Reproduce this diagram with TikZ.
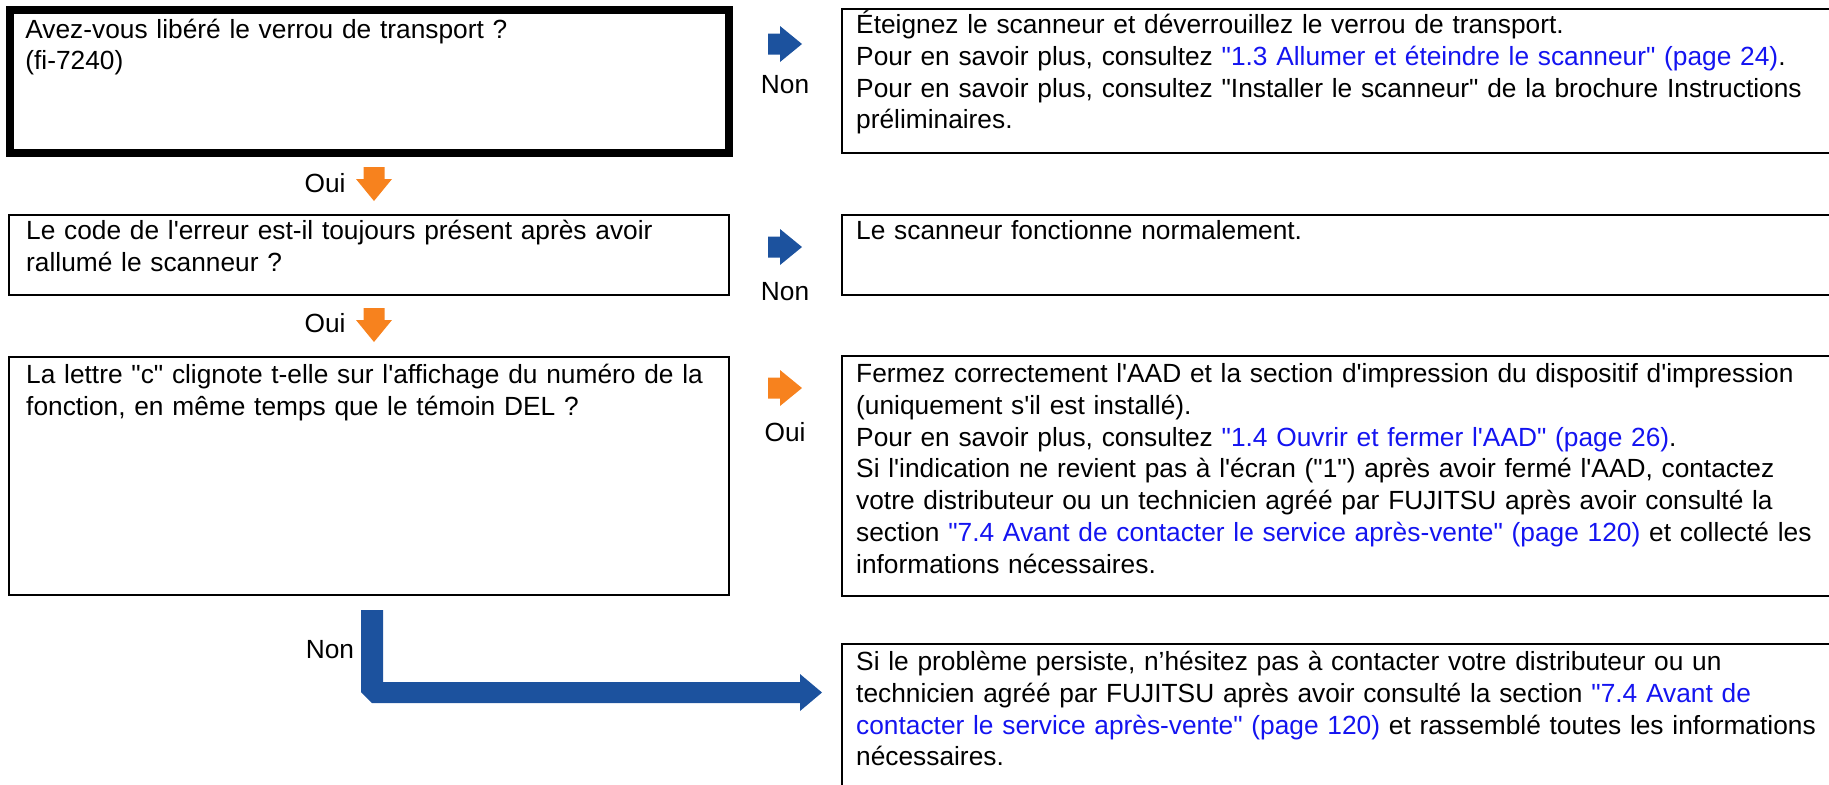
\documentclass[tikz,border=0pt]{standalone}
\usepackage{fontspec}
\setmainfont{Liberation Sans}[Ligatures=TeXOff]
\usetikzlibrary{fit}

\definecolor{arrowblue}{RGB}{28,82,158}
\definecolor{arroworange}{RGB}{247,130,30}
\definecolor{linkblue}{RGB}{20,20,240}
\newcommand{\lnk}[1]{\textcolor{linkblue}{#1}}
% block arrow centred at (#2,#3), pointing right unless rotated by #1
\newcommand{\flowarrow}[4][0]{%
  \fill[#4, shift={(#2,#3)}, rotate=#1]
    (-17,-10.5) -- (-5,-10.5) -- (-5,-18) -- (17,0) -- (-5,18) -- (-5,10.5) -- (-17,10.5) -- cycle;}

\begin{document}
\begin{tikzpicture}[x=0.5pt,y=-0.5pt,
  every node/.style={font=\fontsize{13.15}{15.85}\selectfont},
  qbox/.style={draw, line width=1.2pt, inner sep=0pt},
  txt/.style={inner sep=0pt, align=left, anchor=base west},
  lbl/.style={inner sep=0pt}]
  \useasboundingbox (0,0) rectangle (1829,784);

  % questions
  \node[qbox, line width=4pt, fit={(10,10) (729,153)}] (q1) {};
  \node[qbox, fit={(9,215) (729,295)}] (q2) {};
  \node[qbox, fit={(9,357) (729,595)}] (q3) {};
  \node[txt, text width=352pt] (q1t) at ([shift={(19,32)}]q1.north west)
    {Avez-vous libéré le verrou de transport ?\\(fi-7240)};
  \node[txt, text width=352pt] (q2t) at ([shift={(18,26)}]q2.north west)
    {Le code de l'erreur est-il toujours présent après avoir\\rallumé le scanneur ?};
  \node[txt, text width=352pt] (q3t) at ([shift={(18,28)}]q3.north west)
    {La lettre "c" clignote t-elle sur l'affichage du numéro de la\\fonction, en même temps que le témoin DEL ?};

  % answers
  \node[qbox, fit={(842,9) (1832,153)}] (r1) {};
  \node[qbox, fit={(842,215) (1832,295)}] (r2) {};
  \node[qbox, fit={(842,356) (1832,596)}] (r3) {};
  \node[qbox, fit={(842,644) (1832,788)}] (r4) {};
  \node[txt, text width=490pt] (r1t) at ([shift={(15,26)}]r1.north west)
    {Éteignez le scanneur et déverrouillez le verrou de transport.\\
     Pour en savoir plus, consultez \lnk{"1.3 Allumer et éteindre le scanneur" (page 24)}.\\
     Pour en savoir plus, consultez "Installer le scanneur" de la brochure Instructions\\
     préliminaires.};
  \node[txt, text width=490pt] (r2t) at ([shift={(15,26)}]r2.north west)
    {Le scanneur fonctionne normalement.};
  \node[txt, text width=490pt] (r3t) at ([shift={(15,28)}]r3.north west)
    {Fermez correctement l'AAD et la section d'impression du dispositif d'impression\\
     (uniquement s'il est installé).\\
     Pour en savoir plus, consultez \lnk{"1.4 Ouvrir et fermer l'AAD" (page 26)}.\\
     Si l'indication ne revient pas à l'écran ("1") après avoir fermé l'AAD, contactez\\
     votre distributeur ou un technicien agréé par FUJITSU après avoir consulté la\\
     section \lnk{"7.4 Avant de contacter le service après-vente" (page 120)} et collecté les\\
     informations nécessaires.};
  \node[txt, text width=490pt] (r4t) at ([shift={(15,28)}]r4.north west)
    {Si le problème persiste, n’hésitez pas à contacter votre distributeur ou un\\
     technicien agréé par FUJITSU après avoir consulté la section \lnk{"7.4 Avant de}\\
     \lnk{contacter le service après-vente" (page 120)} et rassemblé toutes les informations\\
     nécessaires.};

  % arrows and their labels
  \flowarrow{785}{44}{arrowblue}
  \flowarrow{785}{247}{arrowblue}
  \flowarrow{785}{388}{arroworange}
  \flowarrow[-90]{374}{184}{arroworange}
  \flowarrow[-90]{374}{325}{arroworange}
  \node[lbl] (non1) at (785,85) {Non};
  \node[lbl] (non2) at (785,292) {Non};
  \node[lbl] (oui3) at (785,432) {Oui};
  \node[lbl] (oui1) at (325,183) {Oui};
  \node[lbl] (oui2) at (325,323) {Oui};
  \node[lbl] (non3) at (330,650) {Non};

  % bent arrow to the last answer
  \fill[arrowblue] (361,610) -- (383,610) -- (383,682) -- (800,682) -- (800,674)
    -- (822,692.5) -- (800,711) -- (800,703) -- (372,703) -- (361,692) -- cycle;
\end{tikzpicture}
\end{document}
